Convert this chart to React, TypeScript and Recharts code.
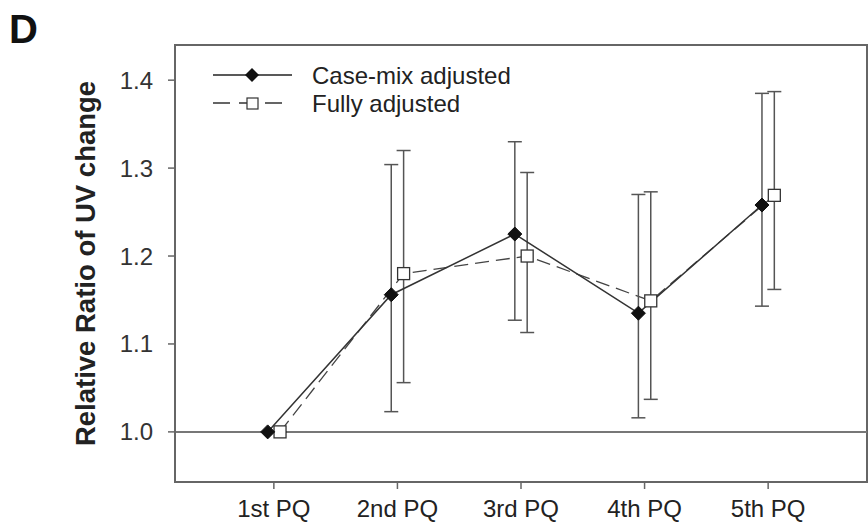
import React from 'react';
import { ComposedChart, Line, XAxis, YAxis, ErrorBar, ReferenceLine, ReferenceArea, Legend } from 'recharts';

const categories = ['1st PQ', '2nd PQ', '3rd PQ', '4th PQ', '5th PQ'];
const caseMix = [1.0, 1.156, 1.225, 1.135, 1.258];
const caseMixLow = [1.0, 1.023, 1.127, 1.016, 1.143];
const caseMixHigh = [1.0, 1.304, 1.33, 1.27, 1.385];
const fully = [1.0, 1.18, 1.2, 1.149, 1.269];
const fullyLow = [1.0, 1.056, 1.113, 1.037, 1.162];
const fullyHigh = [1.0, 1.32, 1.295, 1.273, 1.387];
const yTicks = [1.0, 1.1, 1.2, 1.3, 1.4];
const seriesNames = ['Case-mix adjusted', 'Fully adjusted'];

const DODGE = 0.05;
const X_DOMAIN: [number, number] = [0.2, 5.8];
const Y_DOMAIN: [number, number] = [0.943, 1.44];
const FONT = '"Liberation Sans", Arial, sans-serif';

const build = (vals: number[], lows: number[], highs: number[], shift: number) =>
  vals.map((v, i) => ({ x: i + 1 + shift, y: v, err: [v - lows[i], highs[i] - v] }));

const caseMixData = build(caseMix, caseMixLow, caseMixHigh, -DODGE);
const fullyData = build(fully, fullyLow, fullyHigh, DODGE);

const Diamond = (p: any) => {
  const { cx, cy } = p;
  if (cx == null || cy == null) return null;
  return <path key={`d-${p.index}`} d={`M${cx},${cy - 7}L${cx + 7},${cy}L${cx},${cy + 7}L${cx - 7},${cy}Z`} fill="#111" stroke="#111" />;
};
const Square = (p: any) => {
  const { cx, cy } = p;
  if (cx == null || cy == null) return null;
  return <rect key={`s-${p.index}`} x={cx - 6} y={cy - 6} width={12} height={12} fill="#fff" stroke="#333" strokeWidth={1.3} />;
};

const LegendContent = () => (
  <svg width={320} height={70} style={{ overflow: 'visible' }}>
    <line x1={13} y1={20} x2={92} y2={20} stroke="#222" strokeWidth={1.5} />
    <path d="M52,13L59,20L52,27L45,20Z" fill="#111" />
    <text x={112} y={20} dominantBaseline="central" fontFamily={FONT} fontSize={24} fill="#222">{seriesNames[0]}</text>
    <line x1={13} y1={48} x2={86} y2={48} stroke="#333" strokeWidth={1.3} strokeDasharray="17 9" />
    <rect x={47} y={43} width={11} height={11} fill="#fff" stroke="#333" strokeWidth={1.2} />
    <text x={112} y={48} dominantBaseline="central" fontFamily={FONT} fontSize={24} fill="#222">{seriesNames[1]}</text>
  </svg>
);

export default function App() {
  return (
    <div style={{ position: 'absolute', left: 0, top: 0, width: 868, height: 528, background: '#fff' }}>
      <ComposedChart width={868} height={528} margin={{ top: 45, right: 1, bottom: 0, left: 0 }} style={{ fontFamily: FONT }}>
        <ReferenceArea x1={X_DOMAIN[0]} x2={X_DOMAIN[1]} y1={Y_DOMAIN[0]} y2={Y_DOMAIN[1]} fill="none" stroke="#666" strokeWidth={2} ifOverflow="visible" />
        <XAxis
          type="number"
          dataKey="x"
          domain={X_DOMAIN}
          ticks={[1, 2, 3, 4, 5]}
          tickFormatter={(v: number) => categories[Math.round(v) - 1]}
          height={46}
          tickSize={7}
          tickMargin={11}
          allowDataOverflow
          axisLine={{ stroke: '#666', strokeWidth: 2 }}
          tickLine={{ stroke: '#666', strokeWidth: 1.5 }}
          tick={{ fill: '#222', fontSize: 24, fontFamily: FONT }}
        />
        <YAxis
          type="number"
          domain={Y_DOMAIN}
          ticks={yTicks}
          tickFormatter={(v: number) => v.toFixed(1)}
          width={175}
          tickSize={7}
          tickMargin={15}
          allowDataOverflow
          axisLine={{ stroke: '#666', strokeWidth: 2 }}
          tickLine={{ stroke: '#666', strokeWidth: 1.5 }}
          tick={{ fill: '#333', fontSize: 24, fontFamily: FONT }}
          label={{ value: 'Relative Ratio of UV change', angle: -90, position: 'center', dx: -2, style: { fontSize: 27.5, fontWeight: 'bold', fill: '#222', fontFamily: FONT } }}
        />
        <ReferenceLine y={1} stroke="#777" strokeWidth={2} />
        <Line data={fullyData} dataKey="y" name={seriesNames[1]} stroke="#444" strokeWidth={1.3} strokeDasharray="14 7" dot={Square} isAnimationActive={false}>
          <ErrorBar dataKey="err" width={7} stroke="#555" strokeWidth={1.5} direction="y" />
        </Line>
        <Line data={caseMixData} dataKey="y" name={seriesNames[0]} stroke="#333" strokeWidth={1.5} dot={Diamond} isAnimationActive={false}>
          <ErrorBar dataKey="err" width={7} stroke="#555" strokeWidth={1.5} direction="y" />
        </Line>
        <Legend
          layout="horizontal"
          verticalAlign="middle"
          align="center"
          content={LegendContent}
          wrapperStyle={{ position: 'absolute', left: 200, top: 55, width: 320, height: 70 }}
        />
      </ComposedChart>
      <div style={{ position: 'absolute', left: 9, top: 9, fontFamily: FONT, fontWeight: 'bold', fontSize: 40, lineHeight: '40px', color: '#111' }}>D</div>
    </div>
  );
}
